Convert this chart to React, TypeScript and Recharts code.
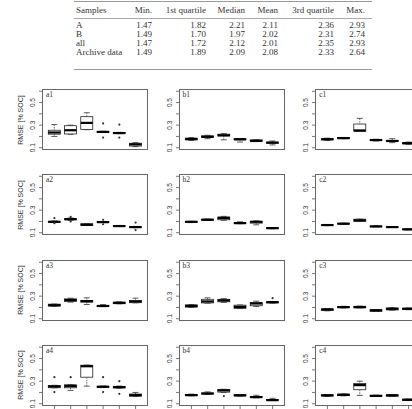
import { Bar, ComposedChart, Line, ReferenceLine, XAxis, YAxis } from 'recharts';

// each box: [lower whisker, Q1, median, Q3, upper whisker]
type Box = [number, number, number, number, number];
// each outlier: [box number, value]
type Outlier = [number, number];

const groups = ['1', '2', '3', '4', '5', '6'];
const yTicks = [0.1, 0.2, 0.3, 0.4, 0.5, 0.6];
const yLabelled = [0.1, 0.3, 0.5];

const columnHeads = ['Samples', 'Min.', '1st quartile', 'Median', 'Mean', '3rd quartile', 'Max.'];
const sampleNames = ['A', 'B', 'all', 'Archive data'];
const minVals = [1.47, 1.49, 1.47, 1.49];
const q1Vals = [1.82, 1.7, 1.72, 1.89];
const medianVals = [2.21, 1.97, 2.12, 2.09];
const meanVals = [2.11, 2.02, 2.01, 2.08];
const q3Vals = [2.36, 2.31, 2.35, 2.33];
const maxVals = [2.93, 2.74, 2.93, 2.64];

const a1: Box[] = [
  [0.2, 0.22, 0.235, 0.255, 0.305],
  [0.22, 0.222, 0.255, 0.295, 0.3],
  [0.26, 0.262, 0.32, 0.375, 0.41],
  [0.235, 0.236, 0.24, 0.245, 0.246],
  [0.225, 0.226, 0.23, 0.235, 0.236],
  [0.11, 0.115, 0.13, 0.14, 0.145],
];
const a1Out: Outlier[] = [[4, 0.315], [4, 0.19], [5, 0.305], [5, 0.19]];

const b1: Box[] = [
  [0.165, 0.17, 0.177, 0.185, 0.19],
  [0.18, 0.19, 0.197, 0.205, 0.21],
  [0.17, 0.205, 0.21, 0.22, 0.225],
  [0.15, 0.17, 0.175, 0.18, 0.182],
  [0.155, 0.156, 0.16, 0.17, 0.172],
  [0.125, 0.14, 0.145, 0.15, 0.16],
];
const b1Out: Outlier[] = [];

const c1: Box[] = [
  [0.165, 0.17, 0.175, 0.18, 0.185],
  [0.18, 0.181, 0.185, 0.19, 0.191],
  [0.245, 0.246, 0.253, 0.31, 0.36],
  [0.16, 0.165, 0.168, 0.172, 0.175],
  [0.145, 0.155, 0.16, 0.165, 0.18],
  [0.13, 0.135, 0.14, 0.145, 0.15],
];
const c1Out: Outlier[] = [];

const a2: Box[] = [
  [0.19, 0.193, 0.197, 0.2, 0.205],
  [0.21, 0.215, 0.22, 0.225, 0.23],
  [0.165, 0.166, 0.17, 0.18, 0.181],
  [0.19, 0.191, 0.194, 0.198, 0.2],
  [0.155, 0.156, 0.159, 0.163, 0.165],
  [0.145, 0.146, 0.15, 0.155, 0.156],
];
const a2Out: Outlier[] = [[1, 0.23], [1, 0.185], [2, 0.24], [2, 0.2], [4, 0.215], [4, 0.175], [6, 0.19], [6, 0.124]];

const b2: Box[] = [
  [0.19, 0.191, 0.197, 0.2, 0.201],
  [0.21, 0.211, 0.215, 0.22, 0.221],
  [0.21, 0.215, 0.23, 0.24, 0.245],
  [0.18, 0.181, 0.185, 0.188, 0.197],
  [0.17, 0.185, 0.197, 0.2, 0.205],
  [0.135, 0.136, 0.141, 0.145, 0.146],
];
const b2Out: Outlier[] = [];

const c2: Box[] = [
  [0.163, 0.165, 0.168, 0.17, 0.172],
  [0.175, 0.177, 0.18, 0.183, 0.185],
  [0.2, 0.201, 0.21, 0.22, 0.221],
  [0.152, 0.153, 0.156, 0.159, 0.16],
  [0.146, 0.147, 0.15, 0.153, 0.155],
  [0.125, 0.127, 0.13, 0.133, 0.135],
];
const c2Out: Outlier[] = [];

const a3: Box[] = [
  [0.21, 0.212, 0.22, 0.229, 0.23],
  [0.247, 0.253, 0.265, 0.276, 0.282],
  [0.226, 0.247, 0.256, 0.262, 0.285],
  [0.207, 0.209, 0.213, 0.218, 0.225],
  [0.232, 0.233, 0.24, 0.247, 0.25],
  [0.241, 0.242, 0.253, 0.262, 0.282],
];
const a3Out: Outlier[] = [];

const b3: Box[] = [
  [0.2, 0.203, 0.213, 0.223, 0.226],
  [0.238, 0.24, 0.253, 0.272, 0.285],
  [0.245, 0.25, 0.262, 0.272, 0.278],
  [0.19, 0.192, 0.205, 0.22, 0.222],
  [0.209, 0.215, 0.235, 0.244, 0.256],
  [0.238, 0.24, 0.247, 0.25, 0.253],
];
const b3Out: Outlier[] = [[6, 0.282]];

const c3: Box[] = [
  [0.17, 0.173, 0.182, 0.187, 0.19],
  [0.195, 0.198, 0.203, 0.207, 0.21],
  [0.196, 0.197, 0.203, 0.21, 0.212],
  [0.164, 0.166, 0.174, 0.18, 0.182],
  [0.176, 0.178, 0.188, 0.195, 0.197],
  [0.18, 0.183, 0.188, 0.193, 0.195],
];
const c3Out: Outlier[] = [];

const a4: Box[] = [
  [0.241, 0.242, 0.253, 0.262, 0.263],
  [0.218, 0.241, 0.256, 0.268, 0.27],
  [0.256, 0.335, 0.432, 0.441, 0.442],
  [0.243, 0.245, 0.25, 0.255, 0.257],
  [0.238, 0.24, 0.247, 0.254, 0.256],
  [0.165, 0.167, 0.176, 0.186, 0.2],
];
const a4Out: Outlier[] = [[1, 0.335], [1, 0.203], [2, 0.335], [4, 0.335], [4, 0.203], [5, 0.3], [5, 0.188]];

const b4: Box[] = [
  [0.17, 0.172, 0.176, 0.182, 0.185],
  [0.185, 0.186, 0.19, 0.196, 0.205],
  [0.2, 0.203, 0.218, 0.226, 0.228],
  [0.168, 0.17, 0.174, 0.18, 0.182],
  [0.152, 0.155, 0.159, 0.165, 0.175],
  [0.128, 0.13, 0.132, 0.138, 0.148],
];
const b4Out: Outlier[] = [[3, 0.168]];

const c4: Box[] = [
  [0.165, 0.168, 0.174, 0.18, 0.182],
  [0.17, 0.172, 0.179, 0.185, 0.187],
  [0.174, 0.224, 0.265, 0.28, 0.3],
  [0.165, 0.167, 0.17, 0.174, 0.176],
  [0.164, 0.167, 0.174, 0.18, 0.182],
  [0.128, 0.13, 0.135, 0.14, 0.142],
];
const c4Out: Outlier[] = [];

const panels = [
  { id: 'a1', boxes: a1, out: a1Out },
  { id: 'b1', boxes: b1, out: b1Out },
  { id: 'c1', boxes: c1, out: c1Out },
  { id: 'a2', boxes: a2, out: a2Out },
  { id: 'b2', boxes: b2, out: b2Out },
  { id: 'c2', boxes: c2, out: c2Out },
  { id: 'a3', boxes: a3, out: a3Out },
  { id: 'b3', boxes: b3, out: b3Out },
  { id: 'c3', boxes: c3, out: c3Out },
  { id: 'a4', boxes: a4, out: a4Out },
  { id: 'b4', boxes: b4, out: b4Out },
  { id: 'c4', boxes: c4, out: c4Out },
];

const SANS = '"Liberation Sans", Arial, sans-serif';
const SERIF = '"Liberation Serif", "Times New Roman", serif';

const FRAME_W = 106;
const FRAME_H = 61;
const AXIS_W = 28;
const colLeft = (c: number) => 42 + c * 136.6;
const rowTop = (r: number) => 89 + r * 85.3;

function toRows(boxes: Box[], out: Outlier[]) {
  return boxes.map((b, i) => {
    const vals = out.filter((o) => o[0] === i + 1).map((o) => o[1]);
    return {
      name: groups[i],
      lo: b[0],
      q1: b[1],
      med: b[2],
      q3: b[3],
      hi: b[4],
      out1: vals[0] ?? null,
      out2: vals[1] ?? null,
    };
  });
}

// box, whiskers and median drawn inside the [lo, hi] range bar
function BoxShape(props: any) {
  const { x, y, width, height, payload } = props;
  if (x == null || y == null || !payload) return <g />;
  const top = Math.min(y, y + height);
  const span = Math.abs(height);
  const { lo, q1, med, q3, hi } = payload;
  const py = (v: number) => top + (span * (hi - v)) / (hi - lo);
  const cx = x + width / 2;
  const cap = width / 4;
  return (
    <g>
      <line x1={cx} x2={cx} y1={py(hi)} y2={py(q3)} stroke="#333" strokeWidth={0.7} strokeDasharray="1.5 1" />
      <line x1={cx} x2={cx} y1={py(q1)} y2={py(lo)} stroke="#333" strokeWidth={0.7} strokeDasharray="1.5 1" />
      <line x1={cx - cap} x2={cx + cap} y1={py(hi)} y2={py(hi)} stroke="#333" strokeWidth={0.8} />
      <line x1={cx - cap} x2={cx + cap} y1={py(lo)} y2={py(lo)} stroke="#333" strokeWidth={0.8} />
      <rect x={x} y={py(q3)} width={width} height={Math.max(py(q1) - py(q3), 0.5)} fill="#fff" stroke="#222" strokeWidth={0.8} />
      <line x1={x} x2={x + width} y1={py(med)} y2={py(med)} stroke="#000" strokeWidth={2.2} />
    </g>
  );
}

function outlierDot(p: any) {
  if (p.value == null || p.cy == null || Number.isNaN(p.cy)) return <g key={`o-${p.index}`} />;
  return <circle key={`o-${p.index}`} cx={p.cx} cy={p.cy} r={1.1} fill="#333" stroke="none" />;
}

// y labels read bottom-to-top, left of the tick marks
function YLabel({ viewBox, text }: any) {
  if (!viewBox) return null;
  const tx = viewBox.x - 7;
  const ty = viewBox.y;
  return (
    <text x={tx} y={ty} transform={`rotate(-90 ${tx} ${ty})`} textAnchor="middle" fontSize={6.5} fontFamily={SANS} fill="#333">
      {text}
    </text>
  );
}

function EmptyTick() {
  return <g />;
}

function Panel({ id, boxes, out, idx }: { id: string; boxes: Box[]; out: Outlier[]; idx: number }) {
  const row = Math.floor(idx / 3);
  const col = idx % 3;
  const left = colLeft(col);
  const top = rowTop(row);
  const bottomRow = row === 3;
  const data = toRows(boxes, out);
  return (
    <>
      <div style={{ position: 'absolute', left: left - AXIS_W, top: top - 1 }}>
        <ComposedChart
          width={AXIS_W + FRAME_W + 2}
          height={FRAME_H + 2 + (bottomRow ? 6 : 0)}
          data={data}
          margin={{ top: 1, right: 2, bottom: 1, left: 0 }}
        >
          <XAxis
            dataKey="name"
            hide={!bottomRow}
            height={6}
            interval={0}
            padding={{ left: 4.3, right: 4.3 }}
            axisLine={false}
            tickSize={4}
            tickLine={{ stroke: '#555', strokeWidth: 0.8 }}
            tick={<EmptyTick />}
          />
          <YAxis
            type="number"
            domain={[0.08, 0.62]}
            ticks={yTicks}
            interval={0}
            width={AXIS_W}
            axisLine={false}
            tickSize={3}
            tickLine={{ stroke: '#555', strokeWidth: 0.8 }}
            tick={<EmptyTick />}
          />
          {yLabelled.map((v) => (
            <ReferenceLine key={v} y={v} stroke="none" ifOverflow="visible" label={<YLabel text={v.toFixed(1)} />} />
          ))}
          <Bar dataKey={(d: any) => [d.lo, d.hi]} barSize={12} shape={(p: any) => <BoxShape {...p} />} isAnimationActive={false} />
          <Line dataKey="out1" stroke="none" dot={outlierDot} activeDot={false} legendType="none" isAnimationActive={false} />
          <Line dataKey="out2" stroke="none" dot={outlierDot} activeDot={false} legendType="none" isAnimationActive={false} />
        </ComposedChart>
      </div>
      <div
        style={{
          position: 'absolute',
          left,
          top,
          width: FRAME_W,
          height: FRAME_H,
          border: '1px solid #666',
          boxSizing: 'border-box',
          pointerEvents: 'none',
        }}
      />
      <div style={{ position: 'absolute', left: left + 4, top: top + 2, fontFamily: SERIF, fontSize: 7.5, color: '#333', lineHeight: '8px' }}>
        {id}
      </div>
      {col === 0 && (
        <div
          style={{
            position: 'absolute',
            left: 20.5 - FRAME_H / 2,
            top: top + FRAME_H / 2 - 4,
            width: FRAME_H,
            height: 8,
            lineHeight: '8px',
            textAlign: 'center',
            transform: 'rotate(-90deg)',
            fontFamily: SANS,
            fontSize: 7,
            color: '#333',
            whiteSpace: 'nowrap',
          }}
        >
          RMSE [% SOC]
        </div>
      )}
    </>
  );
}

const colRight = [0, 152, 206, 245, 278, 334, 365];
const headY = 10;
const rowY = [25, 34, 43, 52];

function SummaryTable() {
  const cols = [minVals, q1Vals, medianVals, meanVals, q3Vals, maxVals];
  const cell = (key: string, text: string, cy: number, c: number) => {
    const base = { position: 'absolute' as const, top: cy - 5, height: 10, lineHeight: '10px', whiteSpace: 'nowrap' as const };
    if (c === 0) return <div key={key} style={{ ...base, left: 76 }}>{text}</div>;
    return <div key={key} style={{ ...base, left: colRight[c] - 60, width: 60, textAlign: 'right' }}>{text}</div>;
  };
  return (
    <div style={{ position: 'absolute', left: 0, top: 0, width: 412, height: 72, fontFamily: SERIF, fontSize: 9, color: '#333' }}>
      <div style={{ position: 'absolute', left: 74, width: 298, top: 1, height: 1, background: '#999' }} />
      <div style={{ position: 'absolute', left: 74, width: 298, top: 18, height: 1, background: '#aaa' }} />
      <div style={{ position: 'absolute', left: 74, width: 298, top: 69, height: 1, background: '#999' }} />
      {columnHeads.map((h, c) => cell(`h${c}`, h, headY, c))}
      {sampleNames.map((s, r) => (
        <div key={s}>
          {cell(`s${r}`, s, rowY[r], 0)}
          {cols.map((vals, c) => cell(`v${r}-${c}`, vals[r].toFixed(2), rowY[r], c + 1))}
        </div>
      ))}
    </div>
  );
}

export default function App() {
  return (
    <div style={{ position: 'absolute', left: 0, top: 0, width: 412, height: 409, overflow: 'hidden', background: '#fff' }}>
      <style>{'svg.recharts-surface { overflow: visible; }'}</style>
      <SummaryTable />
      {panels.map((p, i) => (
        <Panel key={p.id} id={p.id} boxes={p.boxes} out={p.out} idx={i} />
      ))}
    </div>
  );
}
